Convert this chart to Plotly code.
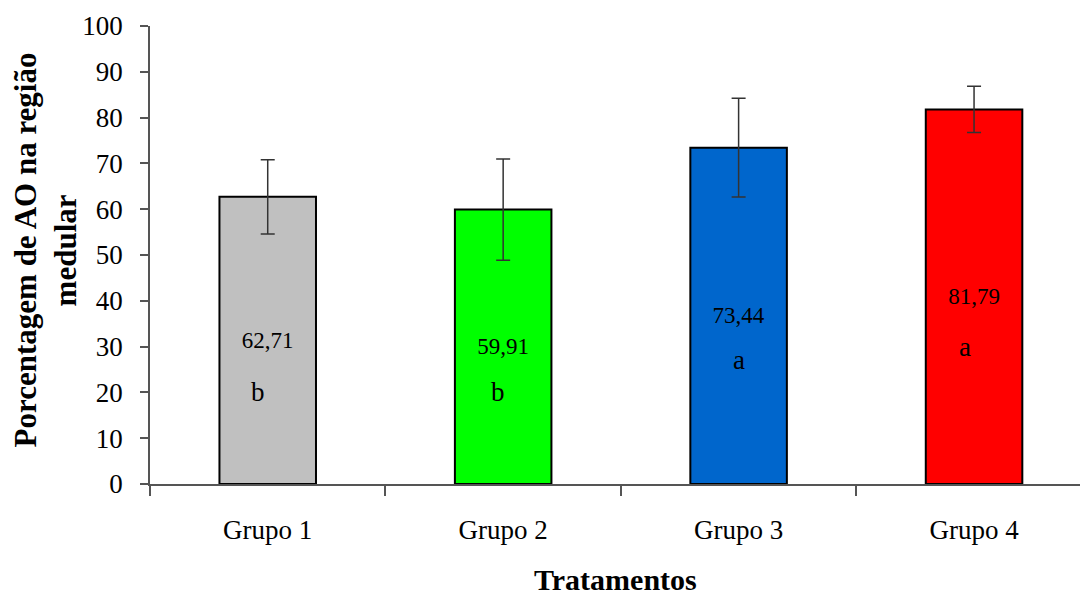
import plotly.graph_objects as go

categories = ["Grupo 1", "Grupo 2", "Grupo 3", "Grupo 4"]
values = [62.71, 59.91, 73.44, 81.79]
errors = [8.1, 11.05, 10.8, 5.05]
colors = ["#C0C0C0", "#00FF00", "#0066CC", "#FF0000"]
letters = ["b", "b", "a", "a"]
letter_y = [20.0, 20.0, 27.0, 30.0]
letter_dx = [-0.04, -0.02, 0.0, -0.04]

FONT = "Liberation Serif"
value_text = [f"{v:.2f}".replace(".", ",") for v in values]

fig = go.Figure()
fig.add_trace(go.Bar(
    x=categories, y=values,
    marker=dict(color=colors, line=dict(color="black", width=2)),
    width=0.41,
    error_y=dict(type="data", array=errors, visible=True, color="#333333", thickness=1.5, width=7),
    text=value_text, textposition="inside", insidetextanchor="middle",
    textangle=0, textfont=dict(family=FONT, size=23, color="black"),
    showlegend=False, hoverinfo="skip",
))

for i, (lt, ly, dx) in enumerate(zip(letters, letter_y, letter_dx)):
    fig.add_annotation(x=i + dx, y=ly, text=lt, showarrow=False,
                       font=dict(family=FONT, size=27, color="black"),
                       xref="x", yref="y")

fig.add_annotation(x=-0.5, xref="x", xshift=-125, y=51, yref="y", text="Porcentagem de AO na região",
                   textangle=-90, showarrow=False, font=dict(family=FONT, size=31, color="black", weight="bold"))
fig.add_annotation(x=-0.5, xref="x", xshift=-85, y=51, yref="y", text="medular",
                   textangle=-90, showarrow=False, font=dict(family=FONT, size=31, color="black", weight="bold"))
fig.add_annotation(x=0.5, xref="paper", y=-0.248, yref="paper", yanchor="bottom", text="Tratamentos",
                   showarrow=False, font=dict(family=FONT, size=30, color="black", weight="bold"))

fig.update_layout(
    width=1080, height=599,
    margin=dict(l=150, r=0, t=26, b=115),
    paper_bgcolor="white", plot_bgcolor="white",
    font=dict(family=FONT, color="black"),
    bargap=0.59,
)
fig.update_xaxes(
    type="category", range=[-0.5, 3.45], tickson="boundaries", automargin=False,
    showline=True, linecolor="#555555", linewidth=1.5,
    ticks="outside", ticklen=10, tickcolor="#555555", tickwidth=1.5,
    tickfont=dict(family=FONT, size=27, color="black"), ticklabelstandoff=21,
    showgrid=False, zeroline=False,
)
fig.update_yaxes(
    range=[0, 100], dtick=10, automargin=False,
    showline=True, linecolor="#555555", linewidth=1.5,
    ticks="outside", ticklen=8, tickcolor="#555555", tickwidth=1.5,
    tickfont=dict(family=FONT, size=27, color="black"), ticklabelstandoff=12,
    showgrid=False, zeroline=False,
)

fig.write_html("out.html", config={"displayModeBar": False},
               post_script="document.body.style.margin='0';document.body.style.overflow='hidden';")
